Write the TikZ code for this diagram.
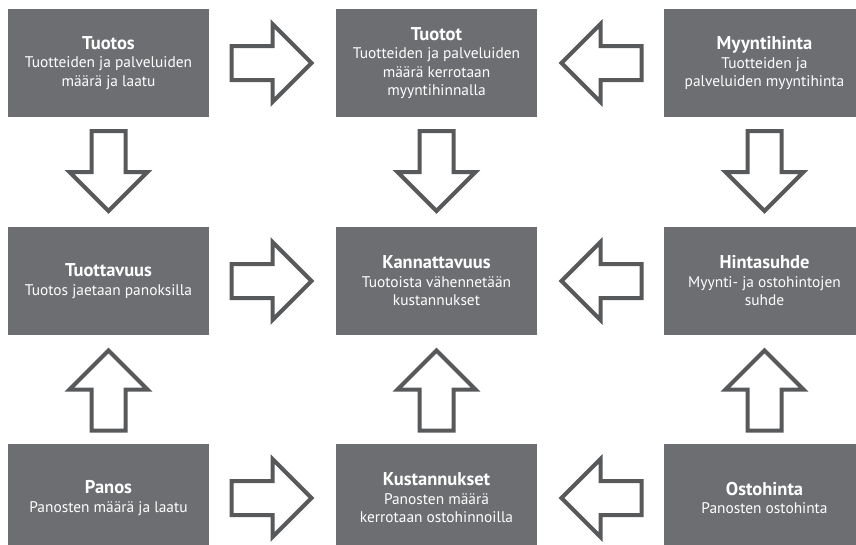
\documentclass[tikz,border=0pt]{standalone}
\usepackage{fontspec}
\setmainfont{PT Sans}
\usetikzlibrary{calc}

\definecolor{boxgray}{HTML}{6D6E71}
\definecolor{arrowgray}{HTML}{58595B}

\newcommand{\boxtitle}[1]{{\fontsize{18.5}{19}\selectfont\bfseries #1}}

\tikzset{
  infobox/.style={fill=boxgray, text=white, minimum width=201pt,
    minimum height=108pt, inner sep=0pt, align=center,
    font=\fontsize{15.4}{18.5}\selectfont},
  bigarrow/.pic={
    \draw[draw=arrowgray, fill=white, line width=4pt, miter limit=10]
      (-41,-17) -- (0,-17) -- (0,-39) -- (39,0) -- (0,39) -- (0,17) -- (-41,17) -- cycle;
  }
}

\begin{document}
\begin{tikzpicture}[x=1pt,y=-1pt]
      \useasboundingbox (0,0) rectangle (856,544);
      \def \Boxes {
        tuotos/108.5/63/Tuotos/{Tuotteiden ja palveluiden\\määrä ja laatu},
        tuotot/436.5/63/Tuotot/{Tuotteiden ja palveluiden\\määrä kerrotaan\\myyntihinnalla},
        myyntihinta/764.5/63/Myyntihinta/{Tuotteiden ja\\palveluiden myyntihinta},
        tuottavuus/108.5/281/Tuottavuus/{Tuotos jaetaan panoksilla},
        kannattavuus/436.5/281/Kannattavuus/{Tuotoista vähennetään\\kustannukset},
        hintasuhde/764.5/281/Hintasuhde/{Myynti- ja ostohintojen\\suhde},
        panos/108.5/498/Panos/{Panosten määrä ja laatu},
        kustannukset/436.5/498/Kustannukset/{Panosten määrä\\kerrotaan ostohinnoilla},
        ostohinta/764.5/498/Ostohinta/{Panosten ostohinta}}
      \def \Arrows {
        tuotos/tuotot/0,
        myyntihinta/tuotot/180,
        tuotos/tuottavuus/-90,
        tuotot/kannattavuus/-90,
        myyntihinta/hintasuhde/-90,
        tuottavuus/kannattavuus/0,
        hintasuhde/kannattavuus/180,
        panos/tuottavuus/90,
        kustannukset/kannattavuus/90,
        ostohinta/hintasuhde/90,
        panos/kustannukset/0,
        ostohinta/kustannukset/180}

      \foreach \name / \x / \y / \title / \desc in \Boxes {
        \node[infobox] (\name) at (\x, \y) {\boxtitle{\title}\\\desc};
      }
      \foreach \src / \dst / \rot in \Arrows {
        \pic[rotate=\rot] at ($(\src)!0.5!(\dst)$) {bigarrow};
      }
    \end{tikzpicture}
\end{document}
